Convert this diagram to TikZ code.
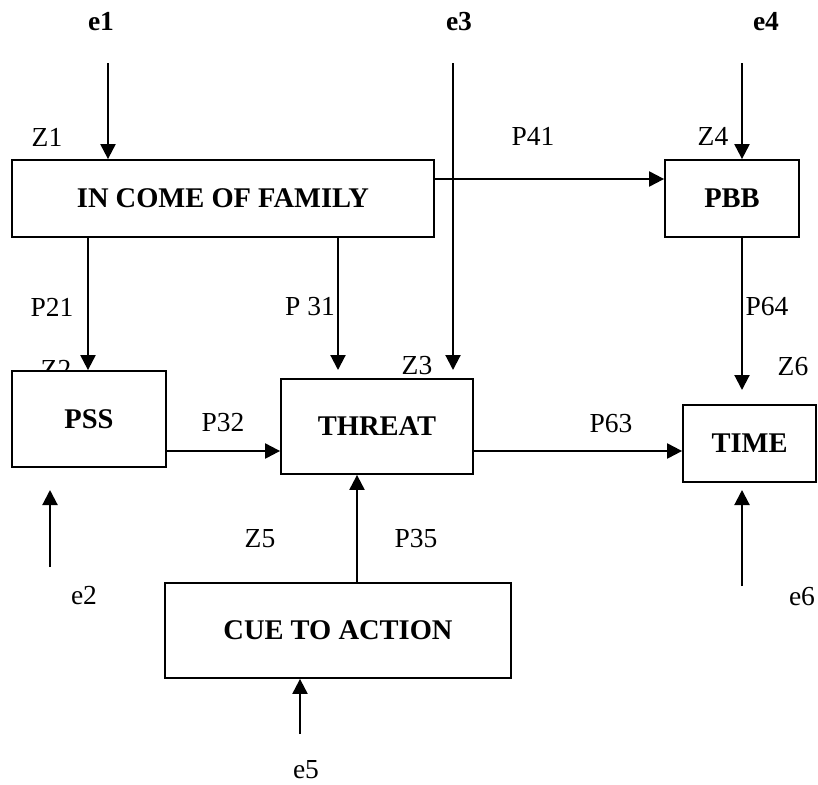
\documentclass[tikz,border=0pt]{standalone}
\usepackage{fontspec}
\setmainfont{Liberation Serif}
\usetikzlibrary{arrows.meta}
\begin{document}
\begin{tikzpicture}[x=1pt,y=-1pt,
  box/.style={draw,line width=1.8pt,fill=white,rectangle,inner sep=0pt,font=\fontsize{28.5}{30}\selectfont\bfseries},
  lbl/.style={inner sep=0pt,font=\fontsize{27.5}{30}\selectfont},
  blbl/.style={inner sep=0pt,font=\fontsize{27.5}{30}\selectfont\bfseries},
  arr/.style={line width=2.1pt,-{Triangle[length=15pt,width=15pt]}}]
\useasboundingbox (0,0) rectangle (818,784);

% labels
\node[blbl] (le1) at (101,22) {e1};
\node[blbl] (le3) at (459,22) {e3};
\node[blbl] (le4) at (766,22) {e4};
\node[lbl] (lz1) at (47,137) {Z1};
\node[lbl] (lp41) at (533,136) {P41};
\node[lbl] (lz4) at (713,136) {Z4};
\node[lbl] (lp21) at (52,307) {P21};
\node[lbl] (lp31) at (310,307) {P 31};
\node[lbl] (lp64) at (767,307) {P64};
\node[lbl] (lz2) at (56,369) {Z2};
\node[lbl] (lz3) at (417,366) {Z3};
\node[lbl] (lz6) at (793,367) {Z6};
\node[lbl] (lp32) at (223,423) {P32};
\node[lbl] (lp63) at (611,424) {P63};
\node[lbl] (lz5) at (260,539) {Z5};
\node[lbl] (lp35) at (416,539) {P35};
\node[lbl] (le2) at (84,596) {e2};
\node[lbl] (le6) at (802,597) {e6};
\node[lbl] (le5) at (306,770) {e5};

% boxes
\node[box,minimum width=422pt,minimum height=77pt] (income) at (223,198.5) {IN COME OF FAMILY};
\node[box,minimum width=134pt,minimum height=77pt] (pbb) at (732,198.5) {PBB};
\node[box,minimum width=154pt,minimum height=96pt] (pss) at (89,419) {PSS};
\node[box,minimum width=192pt,minimum height=95pt] (threat) at (377,426.5) {THREAT};
\node[box,minimum width=133pt,minimum height=77pt] (time) at (749.5,443.5) {TIME};
\node[box,minimum width=346pt,minimum height=95pt] (cue) at (338,630.5) {CUE TO ACTION};

% free ends
\coordinate (e1s) at (108,63);
\coordinate (e3s) at (453,63);
\coordinate (e3e) at (453,370);
\coordinate (e4s) at (742,63);
\coordinate (p31e) at (338,370);
\coordinate (p64e) at (742,390);
\coordinate (e2s) at (50,567);
\coordinate (e2e) at (50,490);
\coordinate (e6s) at (742,586);
\coordinate (e6e) at (742,490);
\coordinate (e5s) at (300,734);

% connectors
\draw[arr] (e1s) -- (e1s |- income.north);
\draw[arr] (e3s) -- (e3e);
\draw[arr] (e4s) -- (e4s |- pbb.north);
\draw[arr] ([yshift=19.5pt]income.east) -- ([yshift=19.5pt]income.east -| pbb.west);
\draw[arr] ([xshift=-135pt]income.south) -- ([xshift=-135pt]income.south |- pss.north);
\draw[arr] (income.south -| p31e) -- (p31e);
\draw[arr] (pbb.south -| p64e) -- (p64e);
\draw[arr] ([yshift=-32pt]pss.east) -- ([yshift=-32pt]pss.east -| threat.west);
\draw[arr] ([yshift=-24.5pt]threat.east) -- ([yshift=-24.5pt]threat.east -| time.west);
\draw[arr] ([xshift=19pt]cue.north) -- ([xshift=19pt]cue.north |- threat.south);
\draw[arr] (e2s) -- (e2e);
\draw[arr] (e6s) -- (e6e);
\draw[arr] (e5s) -- (e5s |- cue.south);
\end{tikzpicture}
\end{document}
